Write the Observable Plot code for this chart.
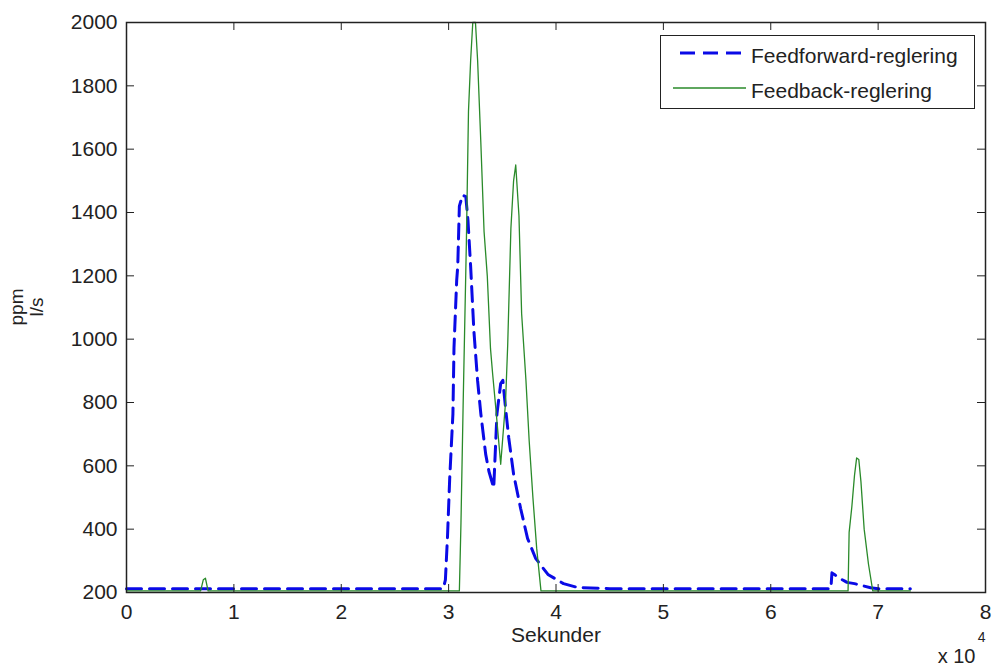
<!DOCTYPE html>
<html><head><meta charset="utf-8">
<script src="https://cdn.jsdelivr.net/npm/d3@7"></script>
<script src="https://cdn.jsdelivr.net/npm/@observablehq/plot@0.6"></script>
<style>
html,body{margin:0;padding:0;background:#fff;overflow:hidden}
#wrap{position:relative;width:995px;height:666px;font-family:"Liberation Sans",Arial,sans-serif;color:#222}
#legend{position:absolute;left:660px;top:35px;width:315px;height:74px;border:1.5px solid #222;background:#fff;box-sizing:border-box}
#legend svg{position:absolute;left:0;top:0}
</style></head>
<body><div id="wrap"></div>
<script>
// Data (time in seconds, value)
const seriesNames = ["Feedforward-reglering", "Feedback-reglering"];
const yLabelLines = ["ppm", "l/s"];
const xTicks = [0, 10000, 20000, 30000, 40000, 50000, 60000, 70000, 80000];
const yTicks = [200, 400, 600, 800, 1000, 1200, 1400, 1600, 1800, 2000];

const feedforward = [
  [0,212],[29500,212],[29700,240],[29900,380],[30100,560],[30400,764],[30500,973],[30750,1185],[30850,1230],
  [31000,1420],[31300,1455],[31600,1450],[31800,1376],[32050,1230],[32350,1027],[32700,868],
  [33000,764],[33450,637],[33750,583],[34200,530],[34500,764],[34850,860],[35050,870],[35300,783],
  [35600,688],[36050,574],[36700,466],[37350,371],[38100,308],[39250,257],[40700,228],[42000,216],
  [45000,212],[65600,212],[65700,262],[66000,255],[66400,245],[66900,236],[67100,232],[67800,228],
  [68500,222],[69300,215],[70000,212],[73000,212]
];
const feedback = [
  [0,205],[6900,205],[7150,240],[7350,245],[7600,205],[31000,205],[31150,420],[31350,790],
  [31650,1300],[31850,1720],[32050,1880],[32250,2000],[32500,2000],[32700,1880],[33000,1620],
  [33300,1340],[33600,1200],[33900,970],[34100,890],[34400,780],[34850,605],[35300,800],[35500,980],
  [35800,1350],[36050,1500],[36250,1550],[36550,1390],[36800,1080],[37200,870],[37500,680],
  [37850,500],[38200,340],[38600,205],[67200,205],[67300,390],[67550,470],[67800,570],[68000,625],
  [68200,620],[68400,550],[68700,400],[69100,290],[69500,205],[73000,205]
];

const W = 995, H = 666, mL = 126, mR = 10, mT = 22, mB = 74;
const innerW = W - mL - mR, innerH = H - mT - mB;
const tk = 8;
const ink = "#222";
const blue = "#0a0ae6", green = "#2a8a2a";
const font = "'Liberation Sans', Arial, sans-serif";

const chart = Plot.plot({
  width: W, height: H,
  marginLeft: mL, marginRight: mR, marginTop: mT, marginBottom: mB,
  style: {fontFamily: font, fontSize: "21px", color: ink, background: "#fff"},
  x: {domain: [0, 80000]},
  y: {domain: [200, 2000]},
  marks: [
    Plot.line(feedforward, {x: d => d[0], y: d => d[1], stroke: blue, strokeWidth: 3, strokeDasharray: "15,8"}),
    Plot.line(feedback, {x: d => d[0], y: d => d[1], stroke: green, strokeWidth: 1.3}),
    Plot.ruleX(xTicks, {x: d => d, insetTop: innerH - tk, stroke: ink}),
    Plot.ruleX(xTicks, {x: d => d, insetBottom: innerH - tk, stroke: ink}),
    Plot.ruleY(yTicks, {y: d => d, insetRight: innerW - tk, stroke: ink}),
    Plot.ruleY(yTicks, {y: d => d, insetLeft: innerW - tk, stroke: ink}),
    Plot.frame({stroke: ink, strokeWidth: 1.5}),
    Plot.axisX({ticks: xTicks, tickSize: 0, tickPadding: 12, tickFormat: d => String(d / 10000), fontSize: 21, label: null, fill: ink}),
    Plot.axisY({ticks: yTicks, tickSize: 0, tickPadding: 9, tickFormat: d => String(d), fontSize: 21, label: null, fill: ink}),
    Plot.text(["Sekunder"], {frameAnchor: "bottom", text: d => d, dy: 35, lineAnchor: "top", fontSize: 21, fill: ink}),
    Plot.text(["x 10"], {frameAnchor: "bottom-right", text: d => d, textAnchor: "end", dx: -10, dy: 64, lineAnchor: "middle", fontSize: 20, fill: ink}),
    Plot.text(["4"], {frameAnchor: "bottom-right", text: d => d, textAnchor: "end", dx: 0, dy: 45, lineAnchor: "middle", fontSize: 14, fill: ink})
  ]
});
const wrap = document.getElementById("wrap");
wrap.appendChild(chart);

// Y-axis label: two rotated lines
const gy = d3.select(chart).append("g")
  .attr("transform", "translate(27,307) rotate(-90)")
  .attr("font-family", font).attr("font-size", 19).attr("fill", ink).attr("text-anchor", "middle");
gy.append("text").attr("y", -4).text(yLabelLines[0]);
gy.append("text").attr("y", 16).text(yLabelLines[1]);

// Legend
const legend = document.createElement("div");
legend.id = "legend";
const ns = "http://www.w3.org/2000/svg";
const lsvg = document.createElementNS(ns, "svg");
lsvg.setAttribute("width", 312); lsvg.setAttribute("height", 72);
const rows = [
  {name: seriesNames[0], stroke: blue, width: 3, dash: "15,8", x1: 19, y: 17, ty: 20},
  {name: seriesNames[1], stroke: green, width: 1.3, dash: null, x1: 12, y: 52, ty: 55}
];
rows.forEach(r => {
  const ln = document.createElementNS(ns, "line");
  ln.setAttribute("x1", r.x1); ln.setAttribute("x2", 85);
  ln.setAttribute("y1", r.y); ln.setAttribute("y2", r.y);
  ln.setAttribute("stroke", r.stroke); ln.setAttribute("stroke-width", r.width);
  if (r.dash) ln.setAttribute("stroke-dasharray", r.dash);
  lsvg.appendChild(ln);
  const t = document.createElementNS(ns, "text");
  t.setAttribute("x", 90); t.setAttribute("y", r.ty);
  t.setAttribute("dy", "0.35em");
  t.setAttribute("font-family", font); t.setAttribute("font-size", 21);
  t.setAttribute("fill", ink);
  t.textContent = r.name;
  lsvg.appendChild(t);
});
legend.appendChild(lsvg);
wrap.appendChild(legend);
</script>
</body></html>
